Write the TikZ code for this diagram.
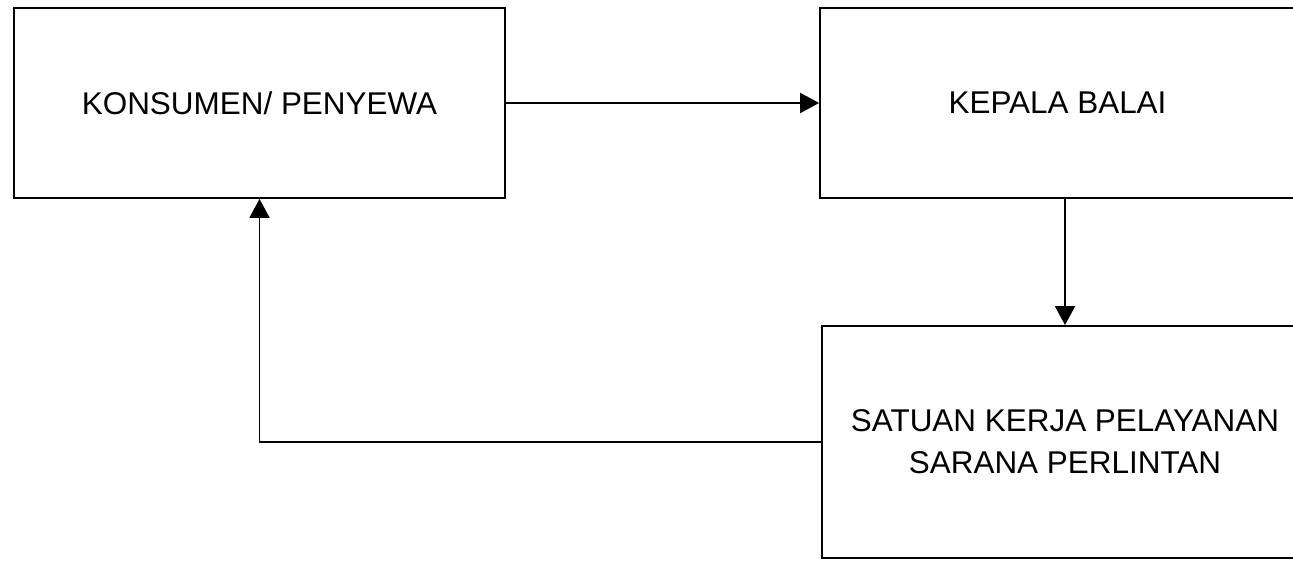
\documentclass[tikz,border=0pt]{standalone}
\usepackage{fontspec}
\setmainfont{Liberation Sans}
\usepackage{tikz}
\usetikzlibrary{arrows.meta,positioning}
\tikzset{
  unitbox/.style={draw,line width=1.1pt,align=center,inner sep=0pt,font=\fontsize{17.9}{24}\selectfont},
  arrow/.style={-{Triangle[length=0.38cm,width=0.4cm]},line width=1.1pt}
}

\begin{document}
\begin{tikzpicture}[x=0.02cm,y=-0.02cm]
\useasboundingbox (0,0) rectangle (1293,563);
\clip (0,0) rectangle (1293,563);

\node[unitbox,minimum width=9.82cm,minimum height=3.8cm] (kon) at (259.5,103) {KONSUMEN/ PENYEWA};
\node[unitbox,minimum width=9.5cm,minimum height=3.8cm] (kep) at (1057.5,103) {KEPALA BALAI};
\node[unitbox,minimum width=9.72cm,minimum height=4.64cm] (sat) at (1065,442) {SATUAN KERJA PELAYANAN\\SARANA PERLINTAN};

\draw[arrow] (kon.east) -- (kep.west);
\draw[arrow] (kep.south -| sat.north) -- (sat.north);
\draw[arrow] (sat.west) -| (kon.south);
\end{tikzpicture}
\end{document}
